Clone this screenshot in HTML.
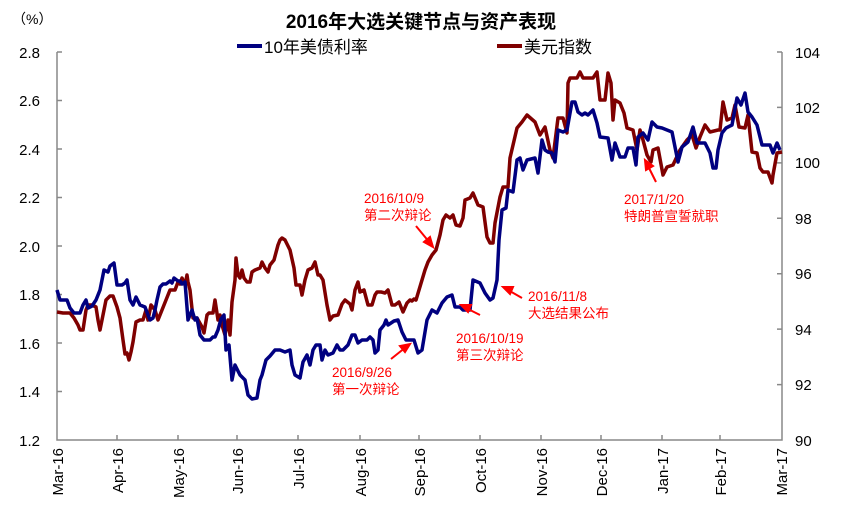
<!DOCTYPE html>
<html><head><meta charset="utf-8"><style>
body{margin:0;background:#fff}
svg{display:block;font-family:"Liberation Sans","Noto Sans CJK SC",sans-serif}
</style></head><body>
<svg width="842" height="520" viewBox="0 0 842 520" xmlns="http://www.w3.org/2000/svg">
<text x="421" y="28" text-anchor="middle" font-size="19" font-weight="bold" fill="#000">2016年大选关键节点与资产表现</text>
<text x="12" y="24" font-size="14" fill="#000">（%）</text>
<line x1="237" y1="46" x2="262" y2="46" stroke="#000080" stroke-width="4"/>
<text x="264" y="53" font-size="17">10年美债利率</text>
<line x1="497" y1="46" x2="522" y2="46" stroke="#7f0000" stroke-width="4"/>
<text x="524" y="53" font-size="17">美元指数</text>
<g stroke="#888" stroke-width="1.5" fill="none">
<path d="M57 52V440H782V52"/>
<path d="M57 52h5M57 100.5h5M57 149h5M57 197.5h5M57 246h5M57 294.5h5M57 343h5M57 391.5h5"/>
<path d="M782 52h-5M782 107.4h-5M782 162.9h-5M782 218.3h-5M782 273.7h-5M782 329.1h-5M782 384.6h-5"/>
<path d="M117 440v-5M178 440v-5M237 440v-5M298 440v-5M360 440v-5M419 440v-5M480 440v-5M541 440v-5M601 440v-5M662 440v-5M720 440v-5"/>
</g>
<g font-size="15" fill="#000" text-anchor="end">
<text x="40" y="58">2.8</text><text x="40" y="106">2.6</text><text x="40" y="155">2.4</text><text x="40" y="203">2.2</text><text x="40" y="252">2.0</text><text x="40" y="300">1.8</text><text x="40" y="349">1.6</text><text x="40" y="397">1.4</text><text x="40" y="446">1.2</text>
</g>
<g font-size="15" fill="#000">
<text x="795" y="58">104</text><text x="795" y="113">102</text><text x="795" y="168">100</text><text x="795" y="224">98</text><text x="795" y="279">96</text><text x="795" y="335">94</text><text x="795" y="390">92</text><text x="795" y="446">90</text>
</g>
<g font-size="15" fill="#000" text-anchor="end">
<text transform="translate(63,448) rotate(-90)">Mar-16</text>
<text transform="translate(123,448) rotate(-90)">Apr-16</text>
<text transform="translate(184,448) rotate(-90)">May-16</text>
<text transform="translate(243,448) rotate(-90)">Jun-16</text>
<text transform="translate(304,448) rotate(-90)">Jul-16</text>
<text transform="translate(366,448) rotate(-90)">Aug-16</text>
<text transform="translate(425,448) rotate(-90)">Sep-16</text>
<text transform="translate(486,448) rotate(-90)">Oct-16</text>
<text transform="translate(547,448) rotate(-90)">Nov-16</text>
<text transform="translate(607,448) rotate(-90)">Dec-16</text>
<text transform="translate(668,448) rotate(-90)">Jan-17</text>
<text transform="translate(726,448) rotate(-90)">Feb-17</text>
<text transform="translate(787,448) rotate(-90)">Mar-17</text>
</g>
<polyline fill="none" stroke="#7f0000" stroke-width="3.5" stroke-linejoin="round" points="57,312 63,313 70,313 74,318 78,325 80,330 83,330 86,310 88,305 92,305 96,307 98,320 100,330 103,315 106,300 110,296 113,296 117,307 120,318 123,340 125,354 127,353 129,360 131,352 133,342 136,322 140,320 143,320 146,310 148,320 151,305 155,310 158,320 162,310 166,300 170,290 175,290 178,282 180,284 182,278 185,285 187,275 188,282 190,290 193,318 197,318 202,327 204,333 207,315 209,313 213,313 215,300 218,320 220,315 222,325 225,335 228,320 230,335 232,302 235,280 236,258 238,275 240,278 242,270 244,278 247,282 250,282 252,272 255,270 260,268 262,262 265,268 268,272 270,265 274,260 278,245 280,240 282,238 285,240 290,250 294,268 296,285 300,285 302,295 305,280 308,270 312,268 315,262 318,275 320,275 323,280 327,305 330,320 333,316 338,315 342,304 345,300 350,304 352,310 355,290 358,282 360,292 364,290 368,305 372,305 375,295 377,292 381,292 385,293 388,290 392,305 395,305 399,302 403,312 407,303 410,300 412,301 414,299 416,300 419,290 422,280 425,270 428,262 432,255 436,250 440,235 443,220 446,215 450,218 453,215 456,225 460,226 463,218 465,200 470,198 473,193 478,205 483,207 487,237 490,243 493,243 495,223 500,197 503,187 508,187 510,158 517,128 522,122 527,115 535,122 540,135 545,127 550,150 553,158 558,118 563,118 567,133 568,83 570,78 577,78 580,72 583,78 593,78 597,72 600,100 605,100 608,73 611,83 613,120 615,100 620,103 624,113 627,128 633,130 637,150 640,130 643,140 647,155 651,162 653,150 658,148 663,175 667,167 673,165 680,150 687,140 692,135 696,148 700,137 705,125 710,132 718,130 720,130 723,102 727,120 732,118 735,105 739,127 745,128 748,115 752,152 757,153 760,168 763,172 768,172 772,183 773,175 777,153 782,152"/>
<polyline fill="none" stroke="#000080" stroke-width="3.5" stroke-linejoin="round" points="57,290 60,300 67,300 70,308 74,313 80,313 83,305 86,300 88,308 92,306 96,300 100,290 104,270 108,272 110,266 114,263 117,285 122,285 125,283 127,280 130,300 133,305 136,297 140,305 145,307 148,315 150,320 153,318 155,310 157,300 160,287 163,284 166,284 170,281 172,283 174,278 178,281 180,281 182,284 185,282 188,320 190,315 192,310 195,320 197,318 200,335 204,340 207,340 210,340 213,337 215,337 218,330 221,319 224,315 226,350 229,345 232,380 235,365 240,375 245,380 248,395 252,399 257,398 260,380 262,375 266,360 270,356 275,350 280,350 285,352 290,350 292,365 295,375 300,378 303,362 307,355 310,365 313,350 316,345 320,345 322,360 325,350 328,355 333,353 337,345 340,350 343,350 348,345 352,335 355,335 358,343 362,340 367,340 370,337 373,340 375,353 378,350 380,330 384,325 386,320 388,325 394,321 398,320 402,332 406,340 410,340 414,340 418,353 422,350 427,320 432,310 437,313 442,303 447,297 452,295 455,307 460,307 463,310 470,310 473,280 480,283 485,293 490,300 493,298 497,280 499,240 502,210 506,208 508,190 513,192 517,160 520,158 523,170 527,160 535,158 538,173 542,140 545,150 548,152 552,153 555,162 558,130 563,132 567,130 572,102 575,102 578,112 582,115 585,113 588,115 593,110 597,123 600,137 608,138 612,160 615,143 620,157 625,157 628,148 633,148 636,165 638,137 643,133 648,140 652,122 657,127 662,128 667,130 672,132 675,147 678,162 682,147 688,142 693,127 697,143 705,143 710,153 713,168 716,168 718,150 722,133 726,128 732,125 737,98 741,105 745,93 748,112 752,117 757,125 762,145 770,145 773,153 777,143 780,150"/>
<g stroke="#ff0000" stroke-width="2" fill="#ff0000">
<line x1="416" y1="226" x2="430" y2="243"/><polygon points="433,247 424,242 430,237"/>
<line x1="391" y1="359" x2="406" y2="347"/><polygon points="410,344 405,352 400,346"/>
<line x1="480" y1="315" x2="466" y2="308"/><polygon points="461,305 471,305 468,312"/>
<line x1="522" y1="298" x2="508" y2="290"/><polygon points="503,287 513,287 510,294"/>
<line x1="656" y1="182" x2="648" y2="166"/><polygon points="645,160 653,166 646,170"/>
</g>
<g font-size="13.5" fill="#ff0000">
<text x="364" y="203">2016/10/9</text><text x="364" y="220">第二次辩论</text>
<text x="332" y="377">2016/9/26</text><text x="332" y="394">第一次辩论</text>
<text x="456" y="343">2016/10/19</text><text x="456" y="360">第三次辩论</text>
<text x="528" y="301">2016/11/8</text><text x="528" y="318">大选结果公布</text>
<text x="624" y="204">2017/1/20</text><text x="624" y="221">特朗普宣誓就职</text>
</g>
</svg>
</body></html>
